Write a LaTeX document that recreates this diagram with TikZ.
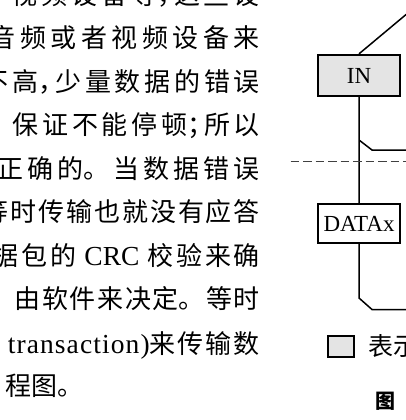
\documentclass[tikz,border=0pt]{standalone}
\usepackage{fontspec}
\setmainfont{Liberation Serif}
\newfontfamily\cjk[RawFeature=+halt]{Noto Sans CJK SC}
\newfontfamily\cjkfull{Noto Sans CJK SC}
\usepackage{tikz}
\definecolor{boxgray}{RGB}{228,228,228}

% stretchable glue between han characters, so each line can be justified
\newXeTeXintercharclass\hanclass
\newXeTeXintercharclass\puncclass
\newcount\hanchar
\hanchar="4E00
\loop
  \XeTeXcharclass\hanchar=\hanclass
  \ifnum\hanchar<"9FFF \advance\hanchar by 1 \repeat
\XeTeXcharclass`，=\puncclass
\XeTeXcharclass`。=\puncclass
\XeTeXcharclass`；=\puncclass
\XeTeXinterchartoks\hanclass\hanclass={\hskip 0pt plus 3pt\relax}
\XeTeXinterchartoks\puncclass\hanclass={\hskip 0pt plus 3pt\relax}
\XeTeXinterchartokenstate=1
\newcommand\jline[2]{\hbox to #1{#2}}
\newcommand\lat[1]{{\rmfamily\fontsize{27.5}{30}\selectfont #1}}

\tikzset{
  para/.style={inner sep=0pt, font=\fontsize{26}{30}\selectfont\cjk},
  pkt/.style={draw, line width=1.8pt, inner sep=0pt, minimum width=82.5pt, font=\fontsize{23}{26}\selectfont},
  wire/.style={line width=1.5pt},
}

\begin{document}
\begin{tikzpicture}[x=1pt, y=-1pt]
        \fill[white] (0,0) rectangle (406,420);
        \useasboundingbox (0,0) rectangle (406,420);

        % text column
        \node[para, anchor=base east] (L1) at (260,4.25) {\jline{248pt}{视频设备等，这些设}};
        \node[para, anchor=base east] (L2) at (260,47.75) {\jline{270pt}{音频或者视频设备来}};
        \node[para, anchor=base east] (L3) at (260,91.25) {\jline{277pt}{不高，少量数据的错误}};
        \node[para, anchor=base east] (L4) at (260,134.75) {\jline{247pt}{保证不能停顿；所以}};
        \node[para, anchor=base east] (L5) at (260,178.25) {\jline{262pt}{\cjkfull 正确的。当数据错误}};
        \node[para, anchor=base east] (L6) at (260,221.75) {\jline{277pt}{等时传输也就没有应答}};
        \node[para, anchor=base east] (L7) at (260,265.25) {\jline{267pt}{据包的 \lat{CRC} 校验来确}};
        \node[para, anchor=base east] (L8) at (260,308.75) {\jline{245pt}{\cjkfull 由软件来决定。等时}};
        \node[para, anchor=base east] (L9) at (260,353) {\jline{252pt}{\lat{\addfontfeature{LetterSpace=4}transaction)}来传输数}};
        \node[para, anchor=base west] (L10) at (5,395.75) {程图。};

        % packets
        \node[pkt, fill=boxgray, minimum height=41.5pt] (IN) at (359,75.5) {IN};
        \node[pkt, minimum height=39.5pt] (DATAx) at (359,223.5) {DATAx};

        \coordinate (up) at (430,-5.5);
        \coordinate (b1) at (359,140);
        \coordinate (b2) at (372,150);
        \coordinate (b3) at (430,150);
        \coordinate (d1) at (290.7,161.7);
        \coordinate (d2) at (430,161.7);
        \coordinate (c1) at (359,298);
        \coordinate (c2) at (372,309.5);
        \coordinate (c3) at (430,309.5);

        \draw[wire] (IN.north) -- (up) (IN) -- (DATAx)
                    (b1) -- (b2) -- (b3)
                    (DATAx.south) -- (c1) -- (c2) -- (c3);
        \draw[wire, draw=black!75, dash pattern=on 8.5pt off 4pt] (d1) -- (d2);

        % key and caption
        \node[draw, line width=2pt, fill=boxgray, minimum width=26.5pt, minimum height=21pt, inner sep=0pt] (key) at (341,346.3) {};
        \node[para, font=\fontsize{25}{30}\selectfont\cjk, anchor=base west] (keytext) at (368,355.5) {表示};
        \node[inner sep=0pt, font=\fontsize{20}{24}\selectfont\cjk\bfseries, anchor=base west] (cap) at (375,408.5) {图};
\end{tikzpicture}
\end{document}
